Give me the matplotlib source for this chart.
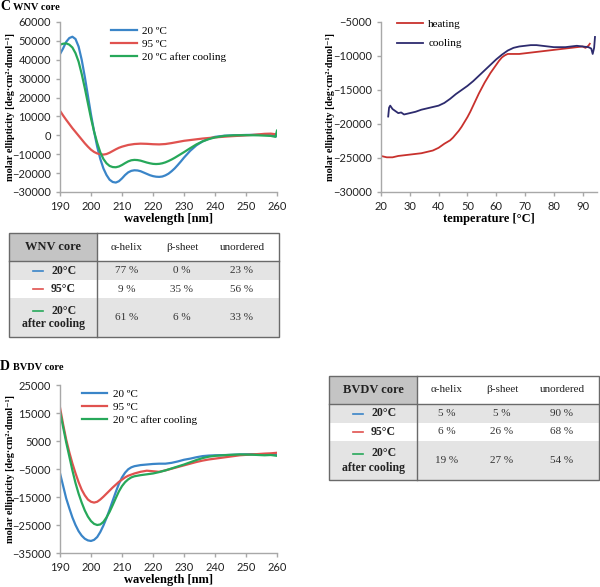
import matplotlib
matplotlib.use("Agg")
import matplotlib.pyplot as plt
from matplotlib.patches import Rectangle

# ---------------- data ----------------
wnv_wl_20 = [190,191,192,193,194,195,196,197,198,199,200,201,202,203,204,205,206,207,208,209,210,211,212,213,214,215,216,217,218,219,220,221,222,223,224,225,226,227,228,229,230,232,234,236,238,240,243,246,250,254,257,260]
wnv_20 = [43000,46000,49500,51500,52200,51000,47000,40000,31000,21000,11000,2000,-6000,-12500,-17500,-21000,-23500,-24700,-25000,-24300,-22800,-21000,-19600,-18800,-18500,-18600,-19000,-19700,-20400,-21100,-21600,-21900,-22000,-21800,-21200,-20300,-19000,-17500,-15700,-13800,-11800,-8200,-5300,-3200,-1800,-800,-200,0,200,300,200,-500]

wnv_wl_95 = [190,191,192,193,194,195,196,197,198,199,200,201,202,203,204,205,206,207,208,209,210,212,214,216,218,220,222,224,226,228,230,233,236,240,244,248,252,256,258,260]
wnv_95 = [13000,10500,8200,6000,3800,1800,-200,-2200,-4200,-6000,-7600,-8800,-9600,-10000,-10200,-9900,-9200,-8300,-7400,-6600,-6000,-5100,-4600,-4400,-4500,-4700,-4800,-4600,-4100,-3500,-2900,-2300,-1700,-1100,-600,-200,200,800,900,500]

wnv_wl_cool = [190,191,192,193,194,195,196,197,198,199,200,201,202,203,204,205,206,207,208,209,210,211,212,213,214,215,216,217,218,219,220,221,222,223,224,225,226,227,228,229,230,232,234,236,238,240,243,246,250,254,258,259.5,260]
wnv_cool = [48000,48500,48700,48000,46500,43500,39000,32500,25000,17000,9000,2000,-4000,-9000,-12500,-14800,-16200,-16800,-16900,-16500,-15700,-14700,-13800,-13200,-13000,-13100,-13400,-13900,-14400,-14800,-15100,-15200,-15100,-14800,-14300,-13600,-12800,-11900,-10900,-9900,-8900,-6800,-4800,-3200,-2000,-1100,-300,0,100,0,-300,-800,2500]

heat_t = [20,22,24,26,28,30,32,34,36,38,40,42,44,45,46,47,48,49,50,51,52,53,54,55,56,57,58,59,60,61,62,63,64,66,68,70,72,74,76,78,80,82,84,86,88,90,91,92,92.5]
heat_v = [-24700,-24900,-24900,-24700,-24600,-24500,-24400,-24300,-24100,-23900,-23500,-22900,-22400,-22000,-21500,-21000,-20400,-19700,-19000,-18200,-17300,-16400,-15500,-14700,-13900,-13200,-12500,-11900,-11300,-10700,-10200,-9900,-9700,-9700,-9700,-9600,-9500,-9400,-9300,-9200,-9100,-9000,-8900,-8800,-8700,-8600,-8800,-8500,-8200]

cool_t = [22.5,22.8,23.2,24,25,26,27,28,29,30,32,34,36,38,40,42,44,46,48,50,52,54,56,58,60,62,64,66,68,70,72,74,76,78,80,82,84,86,88,90,92,93,93.5,94,94.3]
cool_v = [-18900,-17600,-17300,-17800,-18100,-18400,-18300,-18600,-18500,-18400,-18200,-17900,-17700,-17500,-17300,-16900,-16300,-15600,-15000,-14400,-13700,-12900,-12100,-11300,-10500,-9800,-9200,-8800,-8600,-8500,-8400,-8400,-8500,-8600,-8700,-8700,-8700,-8600,-8500,-8600,-8700,-8900,-9700,-8800,-7200]

bv_wl_20 = [190,191,192,193,194,195,196,197,198,199,200,201,202,203,204,205,206,207,208,209,210,211,212,213,214,216,218,220,222,224,226,228,230,232,234,236,238,240,244,248,252,256,258,260]
bv_20 = [-6500,-11000,-15500,-19000,-22300,-25000,-27200,-28800,-29900,-30500,-30700,-30300,-29300,-27500,-25200,-22500,-19500,-16300,-13200,-10300,-8000,-6300,-5100,-4400,-4000,-3600,-3400,-3200,-3100,-3100,-2800,-2300,-1700,-1300,-800,-400,-200,-100,0,200,300,200,300,100]

bv_wl_95 = [190,191,192,193,194,195,196,197,198,199,200,201,202,203,204,205,206,207,208,209,210,211,212,214,216,218,220,222,224,226,228,230,232,234,236,238,240,244,248,252,256,258,260]
bv_95 = [17000,11000,5500,1000,-3000,-6500,-9700,-12400,-14400,-15900,-16700,-17000,-16700,-15900,-14900,-13800,-12700,-11600,-10600,-9600,-8800,-8000,-7400,-6600,-6000,-5600,-5800,-6000,-5500,-4900,-4300,-3700,-3100,-2500,-2000,-1600,-1300,-700,-100,200,500,600,800]

bv_wl_cool = [190,191,192,193,194,195,196,197,198,199,200,201,202,203,204,205,206,207,208,209,210,211,212,213,214,216,218,220,222,224,226,228,230,232,234,236,238,240,244,248,252,256,258,260]
bv_cool = [15500,10000,4500,-500,-5500,-10000,-13800,-17000,-19800,-22000,-23600,-24600,-25000,-24800,-23900,-22300,-20300,-17900,-15400,-13000,-11100,-9700,-8700,-8000,-7600,-7200,-6900,-6600,-6100,-5500,-4800,-4100,-3400,-2600,-1800,-1100,-600,-300,0,200,100,-100,0,-300]

series_labels = ["20 ºC", "95 ºC", "20 ºC after cooling"]
col_headers = ["α-helix", "β-sheet", "unordered"]
row_labels = ["20°C", "95°C", "20°C"]
wnv_table = [["77 %", "0 %", "23 %"], ["9 %", "35 %", "56 %"], ["61 %", "6 %", "33 %"]]
bvdv_table = [["5 %", "5 %", "90 %"], ["6 %", "26 %", "68 %"], ["19 %", "27 %", "54 %"]]

BLUE, RED, GREEN = "#3a85c8", "#e0524f", "#27a85a"
HEAT, COOL = "#c8312d", "#2d2b6e"
SPINE = "#a8a8a8"
SERIF = ["Liberation Serif", "DejaVu Serif"]
SANS = ["Lato", "DejaVu Sans"]

W, H = 600, 587
fig = plt.figure(figsize=(W/100, H/100), dpi=100)

def ax_px(l, t, r, b):
    return fig.add_axes([l/W, 1-b/H, (r-l)/W, (b-t)/H])

ylab = "molar ellipticity [deg·cm²·dmol⁻¹]"

def style(ax):
    for s in ["top", "right"]:
        ax.spines[s].set_visible(False)
    for s in ["left", "bottom"]:
        ax.spines[s].set_color(SPINE)
        ax.spines[s].set_linewidth(1.0)
    ax.tick_params(axis="both", colors=SPINE, length=3, width=1, labelsize=8, labelcolor="#222222")
    for lab in ax.get_xticklabels() + ax.get_yticklabels():
        lab.set_family(SANS)

def set_ylab(ax, right_px, left_px, width_px):
    ax.set_ylabel(ylab, family=SERIF, fontweight="bold", fontsize=7.4)
    ax.yaxis.set_label_coords((right_px - left_px) / width_px, 0.5)

# ---- C left ----
ax1 = ax_px(60, 22, 277, 192)
ax1.plot(wnv_wl_20, wnv_20, color=BLUE, lw=1.6, label=series_labels[0])
ax1.plot(wnv_wl_95, wnv_95, color=RED, lw=1.6, label=series_labels[1])
ax1.plot(wnv_wl_cool, wnv_cool, color=GREEN, lw=1.6, label=series_labels[2])
ax1.set_xlim(190, 260)
ax1.set_ylim(-30000, 60000)
ax1.set_xticks(range(190, 261, 10))
ax1.set_yticks(range(-30000, 60001, 10000))
style(ax1)
ax1.set_xlabel("wavelength [nm]", family=SERIF, fontweight="bold", fontsize=9, labelpad=1)
set_ylab(ax1, 15, 60, 217)
ax1.legend(loc="upper left", bbox_to_anchor=(0.235, 0.975), frameon=False, prop={"family": SERIF, "size": 8},
           handlelength=2.3, handletextpad=0.5, labelspacing=0.3, borderpad=0, borderaxespad=0)

# ---- C right ----
ax2 = ax_px(381, 22, 597, 192)
ax2.plot(heat_t, heat_v, color=HEAT, lw=1.3, label="heating")
ax2.plot(cool_t, cool_v, color=COOL, lw=1.3, label="cooling")
ax2.set_xlim(20, 95)
ax2.set_ylim(-30000, -5000)
ax2.set_xticks(range(20, 91, 10))
ax2.set_yticks(range(-30000, -4999, 5000))
style(ax2)
ax2.set_xlabel("temperature [°C]", family=SERIF, fontweight="bold", fontsize=9, labelpad=1)
set_ylab(ax2, 335, 381, 216)
ax2.legend(loc="upper left", bbox_to_anchor=(0.075, 1.015), frameon=False, prop={"family": SERIF, "size": 8},
           handlelength=2.3, handletextpad=0.5, labelspacing=0.85, borderpad=0, borderaxespad=0)

# ---- D ----
ax3 = ax_px(60, 385, 277, 553)
ax3.plot(bv_wl_20, bv_20, color=BLUE, lw=1.6, label=series_labels[0])
ax3.plot(bv_wl_95, bv_95, color=RED, lw=1.6, label=series_labels[1])
ax3.plot(bv_wl_cool, bv_cool, color=GREEN, lw=1.6, label=series_labels[2])
ax3.set_xlim(190, 260)
ax3.set_ylim(-35000, 25000)
ax3.set_xticks(range(190, 261, 10))
ax3.set_yticks(range(-35000, 25001, 10000))
style(ax3)
ax3.set_xlabel("wavelength [nm]", family=SERIF, fontweight="bold", fontsize=9, labelpad=1)
set_ylab(ax3, 15, 60, 217)
ax3.legend(loc="upper left", bbox_to_anchor=(0.1, 0.975), frameon=False, prop={"family": SERIF, "size": 8},
           handlelength=2.3, handletextpad=0.5, labelspacing=0.3, borderpad=0, borderaxespad=0)

# ---- overlay for labels and tables ----
ov = fig.add_axes([0, 0, 1, 1], zorder=-1)
ov.set_xlim(0, W)
ov.set_ylim(H, 0)
ov.axis("off")

ov.text(0, 7, "C", family=SERIF, fontweight="bold", fontsize=10, va="center", ha="left")
ov.text(13, 8, "WNV core", family=SERIF, fontweight="bold", fontsize=7.5, va="center", ha="left")
ov.text(0, 366, "D", family=SERIF, fontweight="bold", fontsize=10, va="center", ha="left")
ov.text(13, 367, "BVDV core", family=SERIF, fontweight="bold", fontsize=7.5, va="center", ha="left")
ov.text(467, 33, "at 222 nm", family=SERIF, fontweight="bold", fontsize=8, va="center", ha="left")

def draw_table(x0, y0, title, values):
    x1 = x0 + 270
    div = x0 + 88
    rows = [y0, y0 + 28, y0 + 47, y0 + 65, y0 + 104]
    fills = ["#e4e4e4", "#ffffff", "#e4e4e4"]
    ov.add_patch(Rectangle((x0, rows[0]), div - x0, rows[1] - rows[0], fc="#c4c4c4", ec="none"))
    for i in range(3):
        ov.add_patch(Rectangle((x0, rows[i+1]), x1 - x0, rows[i+2] - rows[i+1], fc=fills[i], ec="none"))
    ov.add_patch(Rectangle((x0, rows[0]), x1 - x0, rows[-1] - rows[0], fc="none", ec="#6a6a6a", lw=1.0))
    ov.plot([x0, x1], [rows[1], rows[1]], color="#6a6a6a", lw=1.0)
    ov.plot([div, div], [rows[0], rows[-1]], color="#6a6a6a", lw=1.0)
    cx = [x0 + 118, x0 + 173, x0 + 233]
    hy = (rows[0] + rows[1]) / 2
    ov.text((x0 + div) / 2, hy, title, family=SERIF, fontweight="bold", fontsize=9, ha="center", va="center", color="#222")
    for c, h in zip(cx, col_headers):
        ov.text(c, hy, h, family=SERIF, fontsize=8, ha="center", va="center", color="#222")
    cols = [BLUE, RED, GREEN]
    for i in range(3):
        ry = (rows[i+1] + rows[i+2]) / 2
        ly = ry if i < 2 else ry - 7
        ov.plot([x0 + 24, x0 + 34], [ly, ly], color=cols[i], lw=1.2)
        ov.text(x0 + 42, ly, row_labels[i], family=SERIF, fontweight="bold", fontsize=8.5, ha="left", va="center", color="#222")
        if i == 2:
            ov.text((x0 + div) / 2, ry + 7, "after cooling", family=SERIF, fontweight="bold", fontsize=8.5,
                    ha="center", va="center", color="#222")
        for c, v in zip(cx, values[i]):
            ov.text(c, ry, v, family=SERIF, fontsize=8, ha="center", va="center", color="#333")

draw_table(9, 233, "WNV core", wnv_table)
draw_table(329, 376, "BVDV core", bvdv_table)

fig.savefig("out.png", dpi=100)
